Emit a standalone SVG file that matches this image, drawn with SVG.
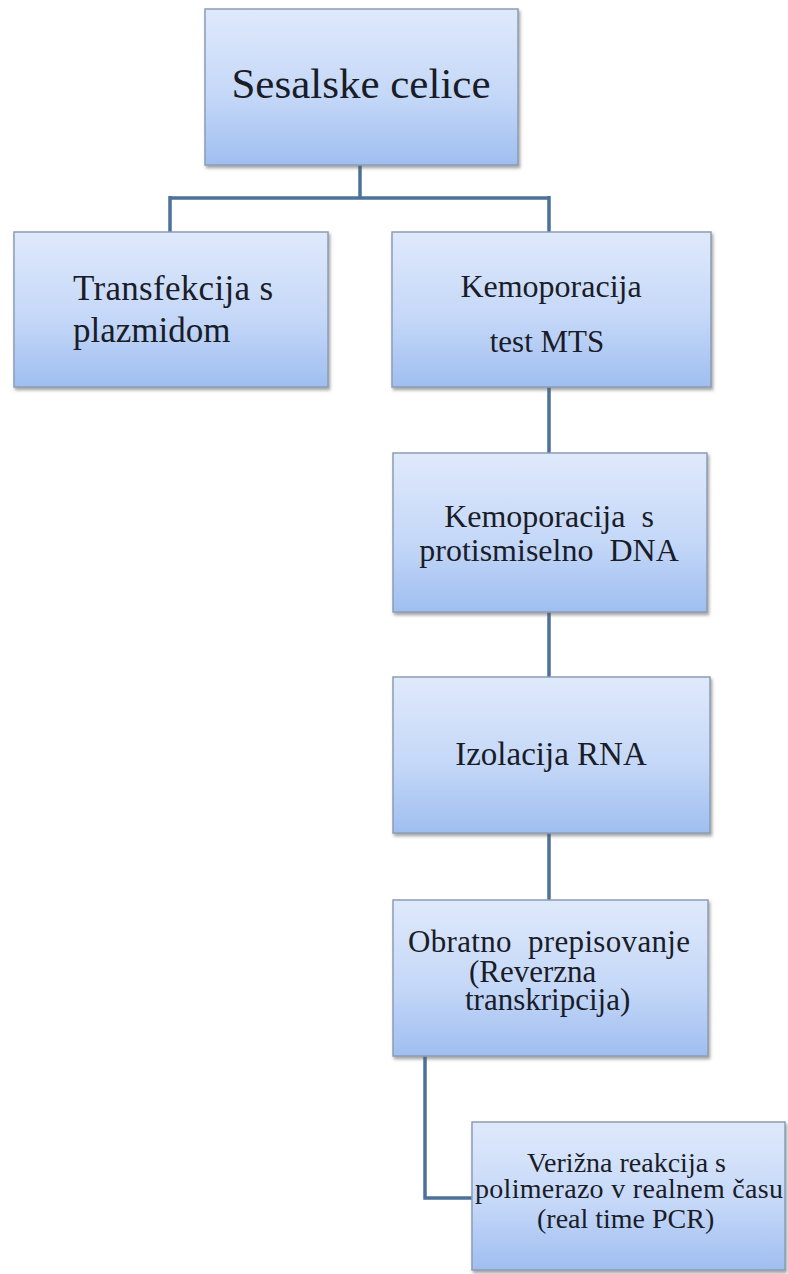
<svg xmlns="http://www.w3.org/2000/svg" width="788" height="1274" viewBox="0 0 788 1274">
<style>
.box{fill:url(#g);stroke:#8d9db5;stroke-width:1.5;filter:url(#sh)}
.t{font-family:'Liberation Serif','Times New Roman',serif;fill:#1a1c28}
.c{fill:none;stroke:#4e7199;stroke-width:3.5}
</style>
<defs>
<linearGradient id="g" x1="0" y1="0" x2="0" y2="1">
<stop offset="0" stop-color="#dfe9fb"/>
<stop offset="0.55" stop-color="#c5d8f8"/>
<stop offset="1" stop-color="#9fbef0"/>
</linearGradient>
<filter id="sh" x="-5%" y="-5%" width="112%" height="115%">
<feDropShadow dx="1.5" dy="2.5" stdDeviation="1.5" flood-color="#5a5a5a" flood-opacity="0.55"/>
</filter>
</defs>
<rect width="788" height="1274" fill="#ffffff"/>
<g id="connectors">
<path class="c" d="M360 165 V198 M170 198 H549 M170 196 V232 M549 196 V232"/>
<path class="c" d="M549 387 V453"/>
<path class="c" d="M549 612 V677"/>
<path class="c" d="M549 833 V900"/>
<path class="c" d="M425 1056 V1198 H472"/>
</g>
<g id="n1">
<rect class="box" x="205" y="9" width="313" height="156"/>
<text class="t" x="361" y="98" font-size="43" text-anchor="middle">Sesalske celice</text>
</g>
<g id="n2">
<rect class="box" x="14" y="232" width="314" height="155"/>
<text class="t" x="73" y="300" font-size="35" textLength="200">Transfekcija s</text>
<text class="t" x="73" y="342" font-size="35">plazmidom</text>
</g>
<g id="n3">
<rect class="box" x="392" y="232" width="319" height="155"/>
<text class="t" x="551" y="297" font-size="32" text-anchor="middle">Kemoporacija</text>
<text class="t" x="547" y="352" font-size="31" text-anchor="middle">test MTS</text>
</g>
<g id="n4">
<rect class="box" x="393" y="453" width="314" height="159"/>
<text class="t" x="549" y="527" font-size="32" text-anchor="middle" xml:space="preserve">Kemoporacija  s</text>
<text class="t" x="549" y="561" font-size="32" text-anchor="middle" xml:space="preserve">protismiselno  DNA</text>
</g>
<g id="n5">
<rect class="box" x="393" y="677" width="317" height="156"/>
<text class="t" x="551" y="765" font-size="33" text-anchor="middle">Izolacija RNA</text>
</g>
<g id="n6">
<rect class="box" x="393" y="900" width="315" height="156"/>
<text class="t" x="408" y="952" font-size="31" xml:space="preserve" textLength="282">Obratno  prepisovanje</text>
<text class="t" x="469" y="982" font-size="31">(Reverzna</text>
<text class="t" x="465" y="1010" font-size="31">transkripcija)</text>
</g>
<g id="n7">
<rect class="box" x="472" y="1122" width="313" height="148"/>
<text class="t" x="527" y="1172" font-size="28">Verižna reakcija s</text>
<text class="t" x="475" y="1198" font-size="28" textLength="308">polimerazo v realnem času</text>
<text class="t" x="537" y="1228" font-size="28">(real time PCR)</text>
</g>
</svg>
